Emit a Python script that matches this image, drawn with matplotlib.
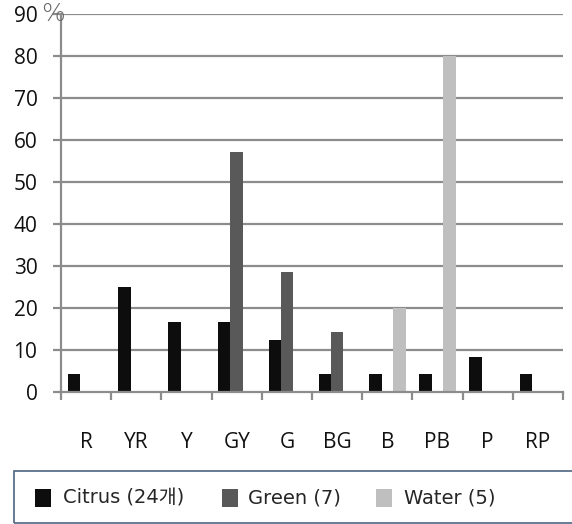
import matplotlib
matplotlib.use("Agg")
import matplotlib.pyplot as plt
from matplotlib.patches import Rectangle
import numpy as np

plt.rcParams['font.family'] = ['Open Sans', 'Noto Sans CJK KR', 'DejaVu Sans']

categories = ["R", "YR", "Y", "GY", "G", "BG", "B", "PB", "P", "RP"]
citrus = [4.2, 25.0, 16.7, 16.7, 12.5, 4.2, 4.2, 4.2, 8.3, 4.2]
green = [0, 0, 0, 57.1, 28.6, 14.3, 0, 0, 0, 0]
water = [0, 0, 0, 0, 0, 0, 20.0, 80.0, 0, 0]
series_labels = ["Citrus (24개)", "Green (7)", "Water (5)"]
series_colors = ["#0d0d0d", "#595959", "#bfbfbf"]
yticks = [0, 10, 20, 30, 40, 50, 60, 70, 80, 90]

W, H = 572, 524
fig = plt.figure(figsize=(W / 100, H / 100), dpi=100)
ax = fig.add_axes([61 / W, 1 - 392 / H, (563 - 61) / W, (392 - 14) / H])

x = np.arange(len(categories))
bw = 0.25
offsets = [-0.24, 0.0, 0.24]
for vals, off, col in zip([citrus, green, water], offsets, series_colors):
    v = np.array(vals, dtype=float)
    mask = v > 0
    ax.bar(x[mask] + off, v[mask], width=bw, color=col, zorder=3)

grid_col = "#8c8c8c"
ax.set_ylim(0, 90)
ax.set_xlim(-0.5, len(categories) - 0.5)
for t in yticks[1:]:
    ax.axhline(t, color=grid_col, lw=1.6, zorder=1)

for s in ["top", "right"]:
    ax.spines[s].set_visible(False)
ax.spines["left"].set_color(grid_col)
ax.spines["left"].set_linewidth(1.6)
ax.spines["bottom"].set_color(grid_col)
ax.spines["bottom"].set_linewidth(1.6)
ax.spines["bottom"].set_zorder(4)

ax.set_yticks(yticks)
ax.set_yticklabels([str(t) for t in yticks])
ax.tick_params(axis="y", length=6, width=1.6, color=grid_col, pad=11,
               labelsize=15, labelcolor="#111111")

# category labels at centres, boundary ticks as minor ticks
ax.set_xticks(x)
ax.set_xticklabels(categories)
ax.set_xticks(np.arange(-0.5, len(categories)), minor=True)
ax.tick_params(axis="x", which="major", length=0, pad=29,
               labelsize=15, labelcolor="#111111")
ax.tick_params(axis="x", which="minor", length=6, width=1.6, color=grid_col)

fig.text(41 / W, 1 - 14 / H, "%", fontsize=18, color="#666666",
         family=["DejaVu Sans"], fontweight="light", ha="left", va="center")

# legend frame running off the right edge
fig.patches.append(Rectangle((14 / W, 1 - 523 / H), 600 / W, 52 / H,
                             transform=fig.transFigure, fill=False,
                             edgecolor="#4f6384", lw=1.2))
sq_x = [35, 222, 376]
txt_x = [63, 248, 404]
for sx, tx, lab, col in zip(sq_x, txt_x, series_labels, series_colors):
    fig.patches.append(Rectangle((sx / W, 1 - 507 / H), 16 / W, 18 / H,
                                 transform=fig.transFigure, facecolor=col,
                                 edgecolor="none"))
    fig.text(tx / W, 1 - 498 / H, lab, fontsize=14, color="#262626",
             family=["DejaVu Sans", "Noto Sans CJK KR"],
             ha="left", va="center")

fig.savefig("out.png", dpi=100)
